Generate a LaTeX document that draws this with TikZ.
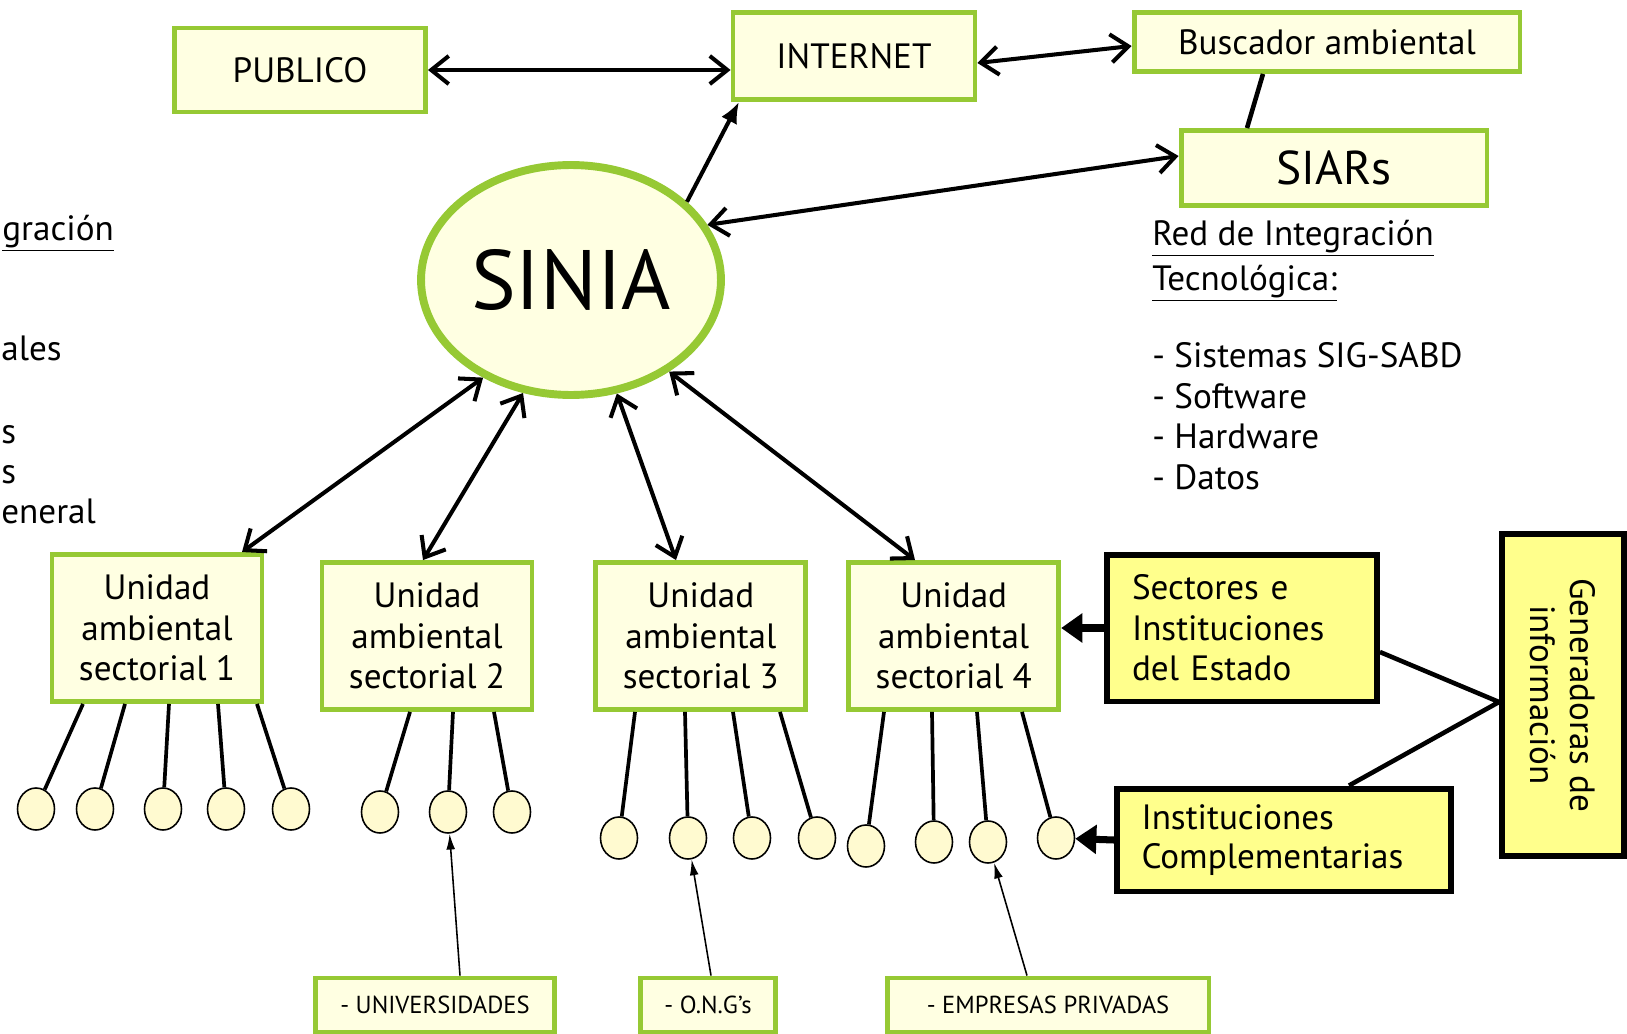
\documentclass[tikz,border=0pt]{standalone}
\usepackage{fontspec}
\setmainfont{PT Sans}
\usetikzlibrary{arrows.meta,shapes.geometric,positioning}

\definecolor{verde}{RGB}{150,201,52}
\definecolor{crema}{RGB}{255,255,226}
\definecolor{amarillo}{RGB}{255,255,140}
\definecolor{bolafill}{RGB}{255,250,208}

\newcommand\letra{\fontsize{20}{23}\selectfont}

\tikzset{
  caja/.style={draw=verde, line width=2.8pt, fill=crema, align=center, inner sep=2pt, font=\letra},
  unidad/.style={caja, minimum width=4.2cm, minimum height=2.94cm},
  negra/.style={draw=black, line width=3.4pt, fill=amarillo, align=left, inner sep=0pt, font=\letra},
  etiqueta/.style={caja, minimum height=1.08cm, font=\fontsize{14}{16}\selectfont},
  bola/.style={ellipse, draw, line width=0.9pt, fill=bolafill, minimum width=0.74cm, minimum height=0.84cm, inner sep=0pt},
  flecha/.style={line width=2.3pt, <->},
  palo/.style={line width=2.1pt},
  gorda/.style={line width=4pt, -{Triangle[length=12pt,width=16pt]}},
  fina/.style={line width=0.9pt, -{Latex[length=9pt,width=5pt]}},
  texto/.style={inner sep=0pt, font=\letra},
}

\begin{document}
\begin{tikzpicture}[x=0.02cm, y=-0.02cm, >={Straight Barb[length=10pt,width=16pt]}]
\useasboundingbox (0,0) rectangle (1627,1034);

% texto cortado a la izquierda
\node[texto, anchor=base west] (frag1) at (2,240) {\underline{gración}};
\node[texto, anchor=base west] (frag2) at (1,360) {ales};
\node[texto, anchor=base west] (frag3) at (1,443) {s};
\node[texto, anchor=base west] (frag4) at (1,483) {s};
\node[texto, anchor=base west] (frag5) at (1,523) {eneral};

% arriba
\node[caja, minimum width=5.02cm, minimum height=1.68cm] (publico) at (300,70) {PUBLICO};
\node[caja, minimum width=4.84cm, minimum height=1.74cm] (internet) at (854,56) {INTERNET};
\node[caja, minimum width=7.72cm, minimum height=1.18cm] (buscador) at (1327,42) {Buscador ambiental};
\node[caja, minimum width=6.12cm, minimum height=1.5cm, font=\fontsize{27}{30}\selectfont] (siars) at (1334,168) {SIARs};
\node[ellipse, draw=verde, line width=4.5pt, fill=crema, minimum width=6.0cm, minimum height=4.6cm,
      font=\fontsize{48}{52}\selectfont] (sinia) at (571,280) {SINIA};

\node[texto, anchor=north west, align=left, font=\fontsize{20}{25.5}\selectfont] (red) at (1152,220)
  {\underline{Red de Integración}\\\underline{Tecnológica:}};
\node[texto, anchor=north west, align=left, font=\fontsize{20}{23.2}\selectfont] (lista) at (1152,342)
  {- Sistemas SIG-SABD\\- Software\\- Hardware\\- Datos};

% unidades
\node[unidad] (u1) at (157,628) {Unidad\\ambiental\\sectorial 1};
\node[unidad] (u2) at (427,636) {Unidad\\ambiental\\sectorial 2};
\node[unidad, right=1.18cm of u2] (u3) {Unidad\\ambiental\\sectorial 3};
\node[unidad, right=0.76cm of u3] (u4) {Unidad\\ambiental\\sectorial 4};

\node[negra, minimum width=5.4cm, minimum height=2.94cm, text width=4.4cm] (sectores) at (1242,628)
  {Sectores e\\Instituciones\\del Estado};
\node[negra, minimum width=6.68cm, minimum height=2.06cm, text width=5.7cm,
      font=\fontsize{20}{22}\selectfont] (complem) at (1284,840)
  {Instituciones\\Complementarias};
\node[negra, align=center, rotate=-90, minimum width=6.44cm, minimum height=2.44cm] (generadoras) at (1563,695)
  {Generadoras de\\información};

% abajo
\node[etiqueta, minimum width=4.78cm] (univ) at (435,1005) {- UNIVERSIDADES};
\node[etiqueta, minimum width=2.7cm] (ong) at (708,1005) {- O.N.G’s};
\node[etiqueta, minimum width=6.44cm] (empresas) at (1048,1005) {- EMPRESAS PRIVADAS};

% bolitas
\foreach \x [count=\i] in {36,95,163,226,291}
  \node[bola] (a\i) at (\x,809) {};
\foreach \x [count=\i] in {380,448,512}
  \node[bola] (b\i) at (\x,812) {};
\foreach \x [count=\i] in {619,688,752,817}
  \node[bola] (c\i) at (\x,838) {};
\foreach \x/\y [count=\i] in {866/846,934/842,988/842,1056/838}
  \node[bola] (d\i) at (\x,\y) {};

\foreach \x [count=\i] in {83,125,169,218,257}
  \draw[palo] (\x,0 |- u1.south) -- (a\i);
\foreach \x [count=\i] in {410,453,494}
  \draw[palo] (\x,0 |- u2.south) -- (b\i);
\foreach \x [count=\i] in {635,685,733,780}
  \draw[palo] (\x,0 |- u3.south) -- (c\i);
\foreach \x [count=\i] in {884,932,977,1022}
  \draw[palo] (\x,0 |- u4.south) -- (d\i);

% flechas
\draw[flecha] (publico.east) -- (publico.east -| internet.west);
\draw[flecha] (internet.east |- 0,63) -- (buscador.west |- 0,46);
\draw[line width=2.3pt, -{Latex[length=12pt,width=10pt]}] (sinia.34) -- (739,0 |- internet.south);
\draw[flecha] (sinia.22) -- (siars.west |- 0,156);
\draw[line width=2.6pt] (1263,0 |- buscador.south) -- (1247,0 |- siars.north);

\draw[flecha] (sinia.228) -- (242,0 |- u1.north);
\draw[flecha] (sinia.247) -- (423,0 |- u2.north);
\draw[flecha] (sinia.292) -- (676,0 |- u3.north);
\draw[flecha] (sinia.317) -- (915,0 |- u4.north);

\draw[gorda] (sectores.west) -- (sectores.west -| u4.east);
\draw[gorda] (complem.west) -- (d4);
\coordinate (gw) at (generadoras.south |- 0,702);
\draw[line width=2.6pt] (sectores.east |- 0,652) -- (gw) -- (1349,0 |- complem.north);

\draw[fina] (460,0 |- univ.north) -- (b2);
\draw[fina] (711,0 |- ong.north) -- (c2);
\draw[fina] (1027,0 |- empresas.north) -- (d3);
\end{tikzpicture}
\end{document}
